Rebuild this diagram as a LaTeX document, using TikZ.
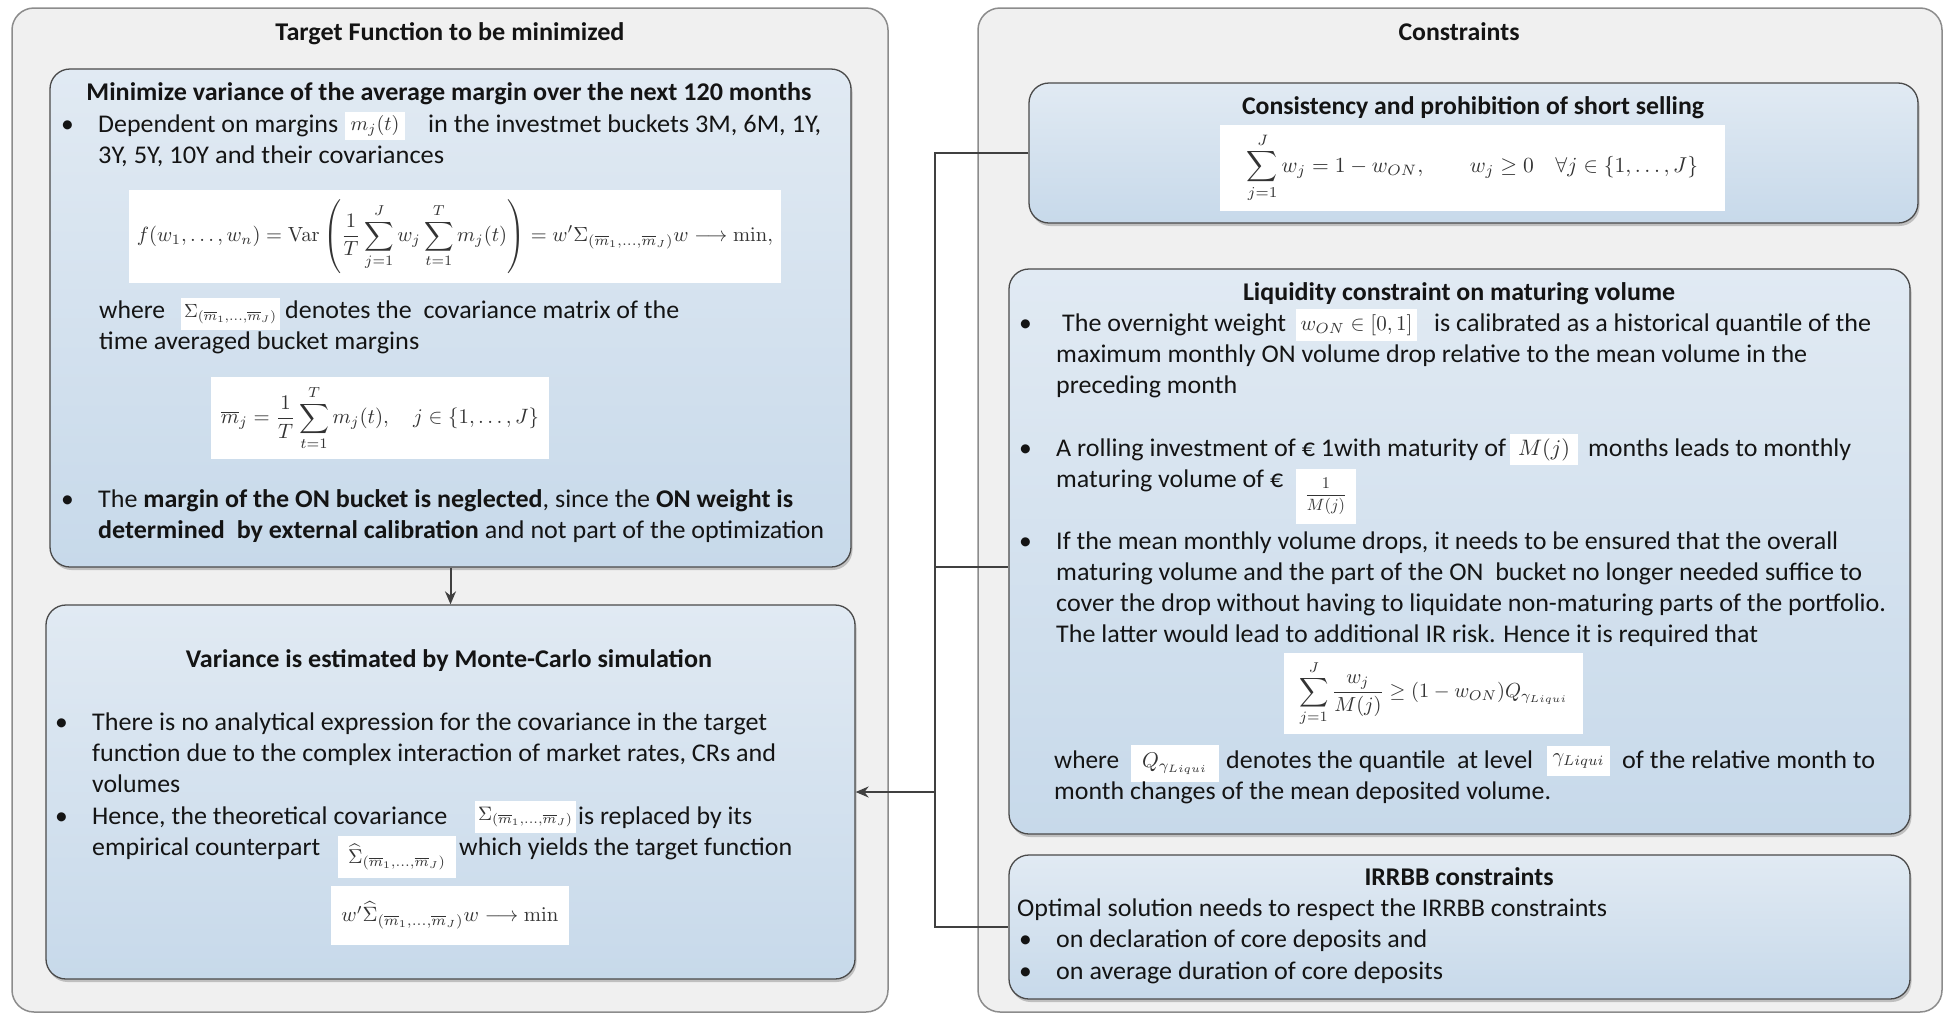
\documentclass[tikz,border=0pt]{standalone}
\usepackage{graphicx}
\usepackage[no-math]{fontspec}
\setmainfont{Carlito}
\usetikzlibrary{arrows.meta,shadows}

\definecolor{outerfill}{HTML}{F0F0F0}
\definecolor{outerline}{HTML}{8C8C8C}
\definecolor{innertop}{HTML}{E1EAF3}
\definecolor{innerbot}{HTML}{C7D9EA}
\definecolor{innerline}{HTML}{4A4A4A}
\definecolor{txt}{HTML}{141414}
\definecolor{mtxt}{HTML}{333333}
\definecolor{wire}{HTML}{404040}

\newcommand\bodyfont{\fontsize{25.5}{31}\selectfont}
\newcommand\mbar{(\overline m_1,\dots,\overline m_J)}
% a text line stretched horizontally to a given width (height kept)
\newcommand\fitw[2]{\resizebox{#1pt}{\height}{#2}}
% a formula scaled uniformly to a given width
\newcommand\fitm[2]{\resizebox{#1pt}{!}{#2}}

\tikzset{
  outerpanel/.style={draw=outerline, fill=outerfill, line width=1.5pt, rounded corners=22pt, inner sep=0pt},
  innerpanel/.style={draw=innerline, top color=innertop, bottom color=innerbot, line width=1.3pt,
    rounded corners=20pt, inner sep=0pt,
    drop shadow={opacity=0.35, shadow xshift=1.5pt, shadow yshift=-3pt, fill=black!60}},
  tx/.style={anchor=base west, inner sep=0pt, font=\bodyfont, text=txt},
  ttl/.style={anchor=base, inner sep=0pt, font=\bodyfont\bfseries, text=txt},
  mathpanel/.style={fill=white, inner sep=0pt, font=\normalsize, text=mtxt},
  mathchip/.style={fill=white, inner sep=0pt, font=\normalsize, text=mtxt},
  wire/.style={draw=wire, line width=2pt},
  arr/.style={wire, -{Stealth[length=13pt, width=11pt]}},
}

\begin{document}
\begin{tikzpicture}[x=1pt, y=-1pt]
\useasboundingbox (0,0) rectangle (1944,1018);

% ---------------- left column: target function ----------------
\node[outerpanel, minimum width=876pt, minimum height=1004pt] (L) at (450,510) {};
\node[ttl] (Lt) at (450,40.5) {\fitw{349}{Target Function to be minimized}};

\node[innerpanel, minimum width=801pt, minimum height=498pt] (A) at (450.5,318) {};
\node[ttl] (At) at (449,100) {\fitw{725}{Minimize variance of the average margin over the next 120 months}};
\node[tx] (Ab1) at (61,132) {\textbullet};
\node[tx] (A1a) at (98,132) {\fitw{240}{Dependent on margins}};
\node[mathchip, minimum width=60pt, minimum height=28pt] (A1m) at (375,126) {\fitm{49}{$m_j(t)$}};
\node[tx] (A1b) at (428,132) {\fitw{393}{in the investmet buckets 3M, 6M, 1Y,}};
\node[tx] (A2) at (98,163) {\fitw{346}{3Y, 5Y, 10Y and their covariances}};
\node[mathpanel, minimum width=652pt, minimum height=93pt] (F1) at (455,236.5)
  {\fitm{636}{$\displaystyle f(w_1,\dots,w_n)=\mathrm{Var}\left(\frac1T\sum_{j=1}^J w_j\sum_{t=1}^T m_j(t)\right)=w'\Sigma_{\mbar}w\longrightarrow\min,$}};
\node[tx] (A3a) at (99,318) {\fitw{66}{where}};
\node[mathchip, minimum width=99pt, minimum height=32pt] (A3m) at (230.5,314) {\fitm{93}{$\Sigma_{\mbar}$}};
\node[tx] (A3b) at (285,318) {\fitw{394}{denotes the\ \ covariance matrix of the}};
\node[tx] (A4) at (99,349) {\fitw{320}{time averaged bucket margins}};
\node[mathpanel, minimum width=338pt, minimum height=82pt] (F2) at (380,418)
  {\fitm{318}{$\displaystyle \overline m_j=\frac1T\sum_{t=1}^T m_j(t),\quad j\in\{1,\dots,J\}$}};
\node[tx] (Ab3) at (61,507) {\textbullet};
\node[tx] (A5) at (98,507) {\fitw{695}{The \textbf{margin of the ON bucket is neglected}, since the \textbf{ON weight is}}};
\node[tx] (A6) at (98,538) {\fitw{726}{\textbf{determined\ \ by external calibration} and not part of the optimization}};

\node[innerpanel, minimum width=809pt, minimum height=374pt] (B) at (450.5,792) {};
\node[ttl] (Bt) at (449,667) {\fitw{526}{Variance is estimated by Monte-Carlo simulation}};
\node[tx] (Bb1) at (55,730) {\textbullet};
\node[tx] (B1) at (92,730) {\fitw{675}{There is no analytical expression for the covariance in the target}};
\node[tx] (B2) at (92,761) {\fitw{684}{function due to the complex interaction of market rates, CRs and}};
\node[tx] (B3) at (92,792) {\fitw{88}{volumes}};
\node[tx] (Bb2) at (55,824) {\textbullet};
\node[tx] (B4a) at (92,824) {\fitw{355}{Hence, the theoretical covariance}};
\node[mathchip, minimum width=101pt, minimum height=32pt] (B4m) at (525.5,817) {\fitm{95}{$\Sigma_{\mbar}$}};
\node[tx] (B4b) at (578,824) {\fitw{174}{is replaced by its}};
\node[tx] (B5a) at (92,855) {\fitw{228}{empirical counterpart}};
\node[mathchip, minimum width=118pt, minimum height=42pt] (B5m) at (397,857) {\fitm{98}{$\widehat\Sigma_{\mbar}$}};
\node[tx] (B5b) at (459,855) {\fitw{333}{which yields the target function}};
\node[mathpanel, minimum width=238pt, minimum height=59pt] (F3) at (450,915.5)
  {\fitm{217}{$w'\widehat\Sigma_{\mbar}w\longrightarrow\min$}};

% ---------------- right column: constraints ----------------
\node[outerpanel, minimum width=964pt, minimum height=1004pt] (R) at (1460,510) {};
\node[ttl] (Rt) at (1459,40.5) {\fitw{121}{Constraints}};

\node[innerpanel, minimum width=889pt, minimum height=140pt] (C1) at (1473.5,153) {};
\node[ttl] (C1t) at (1473,114) {\fitw{462}{Consistency and prohibition of short selling}};
\node[mathpanel, minimum width=505pt, minimum height=86pt] (F4) at (1472.5,168)
  {\fitm{451}{$\displaystyle\sum_{j=1}^J w_j=1-w_{ON},\qquad w_j\ge0\quad\forall j\in\{1,\dots,J\}$}};

\node[innerpanel, minimum width=901pt, minimum height=565pt] (C2) at (1459.5,551.5) {};
\node[ttl] (C2t) at (1459,300) {\fitw{432}{Liquidity constraint on maturing volume}};
\node[tx] (Cb1) at (1019,331) {\textbullet};
\node[tx] (C21a) at (1062,331) {\fitw{224}{The overnight weight}};
\node[mathchip, minimum width=121pt, minimum height=32pt] (C21m) at (1356.5,325) {\fitm{112}{$w_{ON}\in[0,1]$}};
\node[tx] (C21b) at (1434,331) {\fitw{437}{is calibrated as a historical quantile of the}};
\node[tx] (C22) at (1056,362) {\fitw{751}{maximum monthly ON volume drop relative to the mean volume in the}};
\node[tx] (C23) at (1056,393) {\fitw{181}{preceding month}};
\node[tx] (Cb2) at (1019,456) {\textbullet};
\node[tx] (C24a) at (1056,456) {\fitw{450}{A rolling investment of € 1with maturity of}};
\node[mathchip, minimum width=68pt, minimum height=31pt] (C24m) at (1544,449.5) {\fitm{52}{$M(j)$}};
\node[tx] (C24b) at (1588,456) {\fitw{263}{months leads to monthly}};
\node[tx] (C25a) at (1056,487) {\fitw{227}{maturing volume of €}};
\node[mathchip, minimum width=60pt, minimum height=55pt] (C25m) at (1326,496.5) {\fitm{42}{$\displaystyle\frac{1}{M(j)}$}};
\node[tx] (Cb3) at (1019,549) {\textbullet};
\node[tx] (C26) at (1056,549) {\fitw{782}{If the mean monthly volume drops, it needs to be ensured that the overall}};
\node[tx] (C27) at (1056,580) {\fitw{806}{maturing volume and the part of the ON\ \ bucket no longer needed suffice to}};
\node[tx] (C28) at (1056,611) {\fitw{830}{cover the drop without having to liquidate non-maturing parts of the portfolio.}};
\node[tx] (C29) at (1056,642) {\fitw{702}{The latter would lead to additional IR risk. Hence it is required that}};
\node[mathpanel, minimum width=299pt, minimum height=81pt] (F5) at (1433.5,693.5)
  {\fitm{269}{$\displaystyle\sum_{j=1}^J\frac{w_j}{M(j)}\ge(1-w_{ON})Q_{\gamma_{Liqui}}$}};
\node[tx] (C2Aa) at (1054,768) {\fitw{65}{where}};
\node[mathchip, minimum width=88pt, minimum height=37pt] (C2Am) at (1175,763.5) {\fitm{66}{$Q_{\gamma_{Liqui}}$}};
\node[tx] (C2Ab) at (1226,768) {\fitw{307}{denotes the quantile\ \ at level}};
\node[mathchip, minimum width=63pt, minimum height=30pt] (C2An) at (1578.5,761) {\fitm{52}{$\gamma_{Liqui}$}};
\node[tx] (C2Ac) at (1622,768) {\fitw{253}{of the relative month to}};
\node[tx] (C2B) at (1054,799) {\fitw{497}{month changes of the mean deposited volume.}};

\node[innerpanel, minimum width=901pt, minimum height=144pt] (C3) at (1459.5,927) {};
\node[ttl] (C3t) at (1459,885) {\fitw{189}{IRRBB constraints}};
\node[tx] (C31) at (1017,916) {\fitw{590}{Optimal solution needs to respect the IRRBB constraints}};
\node[tx] (Cb4) at (1019,947) {\textbullet};
\node[tx] (C32) at (1056,947) {\fitw{371}{on declaration of core deposits and}};
\node[tx] (Cb5) at (1019,979) {\textbullet};
\node[tx] (C33) at (1056,979) {\fitw{387}{on average duration of core deposits}};

% ---------------- connectors ----------------
\draw[arr] (A.south) -- (B.north);
\coordinate (jt) at (935,153);
\coordinate (jm) at (935,567);
\coordinate (jb) at (935,927);
\draw[wire] (C1.west) -- (jt) -- (jb) -- (C3.west);
\draw[wire] (jm) -- (C2.west |- jm);
\draw[arr] (B.east -| jt) -- (B.east);
\end{tikzpicture}
\end{document}
